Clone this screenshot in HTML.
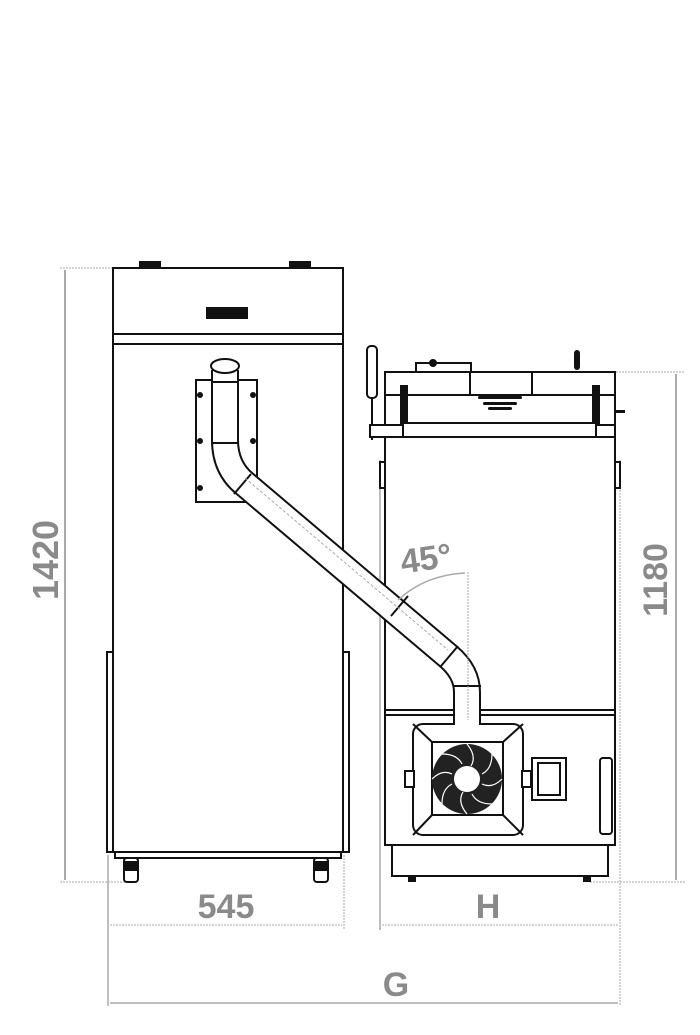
<!DOCTYPE html>
<html><head><meta charset="utf-8"><style>
html,body{margin:0;padding:0;background:#fff;width:700px;height:1035px;overflow:hidden}
svg{display:block}
.dim{font-family:"Liberation Sans",sans-serif;font-weight:bold;fill:#8a8a8a}
</style></head><body>
<svg width="700" height="1035" viewBox="0 0 700 1035" xmlns="http://www.w3.org/2000/svg">
<g stroke="#aaa" stroke-width="1" fill="none">
 <line x1="60" y1="268" x2="112" y2="268" stroke-dasharray="2,1"/>
 <line x1="60" y1="882" x2="135" y2="882" stroke-dasharray="2,1"/>
 <line x1="65" y1="270" x2="65" y2="880" stroke-width="2"/>
 <line x1="616" y1="372" x2="685" y2="372" stroke-dasharray="2,1"/>
 <line x1="590" y1="882" x2="685" y2="882" stroke-dasharray="2,1"/>
 <line x1="676" y1="374" x2="676" y2="880" stroke-width="2"/>
 <line x1="108" y1="855" x2="108" y2="1006" stroke-width="1.5"/>
 <line x1="344" y1="855" x2="344" y2="930" stroke-dasharray="2,1"/>
 <line x1="110" y1="925" x2="342" y2="925" stroke-dasharray="2,1"/>
 <line x1="380" y1="460" x2="380" y2="930" stroke-width="1.5"/>
 <line x1="620" y1="460" x2="620" y2="1006" stroke-dasharray="2,1"/>
 <line x1="382" y1="925" x2="618" y2="925" stroke-dasharray="2,1"/>
 <line x1="110" y1="1003" x2="618" y2="1003" stroke-width="1.5"/>
</g>
<text class="dim" font-size="36" transform="translate(58,560) rotate(-90)" text-anchor="middle">1420</text>
<text class="dim" font-size="34" transform="translate(667,580) rotate(-90)" text-anchor="middle">1180</text>
<text class="dim" font-size="34" x="226" y="918" text-anchor="middle">545</text>
<text class="dim" font-size="34" x="488" y="918" text-anchor="middle">H</text>
<text class="dim" font-size="34" x="396" y="996" text-anchor="middle">G</text>

<g stroke="#111" stroke-width="2" fill="#fff">
 <rect x="140" y="262" width="20" height="6" fill="#111"/>
 <rect x="290" y="262" width="20" height="6" fill="#111"/>
 <rect x="113" y="268" width="230" height="66"/>
 <rect x="113" y="334" width="230" height="10"/>
 <rect x="113" y="344" width="230" height="508"/>
 <rect x="107" y="652" width="6" height="200"/>
 <rect x="343" y="652" width="6" height="200"/>
 <rect x="115" y="852" width="226" height="6"/>
 <rect x="207" y="308" width="40" height="10" fill="#111"/>
 <rect x="196" y="380" width="61" height="122"/>
 <rect x="124" y="858" width="14" height="24" rx="3" fill="#fff"/>
 <rect x="124" y="862" width="14" height="8" fill="#111"/>
 <rect x="314" y="858" width="14" height="24" rx="3"/>
 <rect x="314" y="862" width="14" height="8" fill="#111"/>
</g>
<g fill="#111">
 <circle cx="200" cy="395" r="3"/><circle cx="253" cy="395" r="3"/>
 <circle cx="200" cy="441" r="3"/><circle cx="253" cy="441" r="3"/>
 <circle cx="200" cy="488" r="3"/><circle cx="253" cy="488" r="3"/>
</g>
<g stroke="#111" stroke-width="2" fill="#fff">
 <rect x="367" y="346" width="10" height="52" rx="4"/>
 <line x1="372" y1="398" x2="372" y2="440"/>
 <rect x="416" y="363" width="55" height="9"/>
 <rect x="385" y="372" width="230" height="338"/>
 <line x1="385" y1="395" x2="615" y2="395"/>
 <rect x="470" y="372" width="62" height="23"/>
 <rect x="370" y="425" width="245" height="12"/>
 <rect x="403" y="423" width="193" height="14"/>
 <rect x="401" y="386" width="6" height="37" fill="#111"/>
 <rect x="593" y="386" width="6" height="37" fill="#111"/>
 <rect x="380" y="462" width="5" height="26"/>
 <rect x="615" y="462" width="5" height="26"/>
 <rect x="385" y="710" width="230" height="135"/>
 <line x1="385" y1="715" x2="615" y2="715"/>
 <rect x="392" y="845" width="216" height="31"/>
 <rect x="413" y="724" width="110" height="111" rx="10"/>
 <rect x="432" y="742" width="71" height="73"/>
 <line x1="413" y1="724" x2="432" y2="742"/><line x1="523" y1="724" x2="503" y2="742"/>
 <line x1="413" y1="835" x2="432" y2="815"/><line x1="523" y1="835" x2="503" y2="815"/>
 <rect x="405" y="771" width="9" height="16"/>
 <rect x="522" y="771" width="9" height="16"/>
 <rect x="532" y="758" width="34" height="42"/>
 <rect x="538" y="763" width="22" height="32"/>
 <rect x="600" y="758" width="12" height="76" rx="3"/>
</g>
<circle cx="433" cy="363" r="4" fill="#111"/>
<rect x="574" y="350" width="6" height="20" rx="3" fill="#111"/>
<rect x="615" y="410" width="10" height="3" fill="#111"/>
<g fill="#111">
 <rect x="478" y="396" width="44" height="3" rx="1.5"/>
 <rect x="483" y="402" width="34" height="3" rx="1.5"/>
 <rect x="488" y="407" width="24" height="3" rx="1.5"/>
 <rect x="408" y="876" width="8" height="6"/><rect x="583" y="876" width="8" height="6"/>
</g>
<circle cx="467" cy="779" r="35" fill="#222"/>
<g stroke="#fff" stroke-width="1.2" fill="none">
 <path d="M467 744 q10 12 4 22"/><path d="M492 754 q0 15 -10 20"/><path d="M502 779 q-10 10 -20 5"/>
 <path d="M492 804 q-15 0 -20 -10"/><path d="M467 814 q-10 -12 -4 -22"/><path d="M442 804 q0 -15 10 -20"/>
 <path d="M432 779 q10 -10 20 -5"/><path d="M442 754 q15 0 20 10"/>
</g>
<circle cx="467" cy="779" r="13" fill="#fff"/>

<path d="M225 370 L225 440 Q225 468 245 484 L448 656 Q467 672 467 692 L467 725" stroke="#111" stroke-width="28" fill="none"/>
<path d="M225 370 L225 440 Q225 468 245 484 L448 656 Q467 672 467 692 L467 727" stroke="#fff" stroke-width="24" fill="none"/>
<ellipse cx="225" cy="366" rx="14" ry="7" fill="#fff" stroke="#111" stroke-width="2"/>
<g stroke="#111" stroke-width="2" fill="none">
 <line x1="211" y1="382" x2="239" y2="382"/>
 <line x1="211" y1="443" x2="239" y2="443"/>
 <line x1="234" y1="494" x2="251" y2="474"/>
 <line x1="391" y1="616" x2="408" y2="596"/>
 <line x1="441" y1="666" x2="458" y2="646"/>
 <line x1="453" y1="686" x2="481" y2="686"/>
 <line x1="385" y1="710" x2="453" y2="710"/>
 <line x1="481" y1="710" x2="615" y2="710"/>
</g>
<g stroke="#aaa" stroke-width="1" fill="none">
 <line x1="245" y1="478" x2="448" y2="650" stroke-dasharray="3,2"/>
 <line x1="468" y1="572" x2="468" y2="720" stroke-dasharray="2,1"/>
 <path d="M398 600 Q425 575 465 573" stroke-width="1.5"/>
</g>
<text class="dim" font-size="34" x="426" y="570" text-anchor="middle" transform="rotate(-8 426 558)">45°</text>
</svg>
</body></html>
